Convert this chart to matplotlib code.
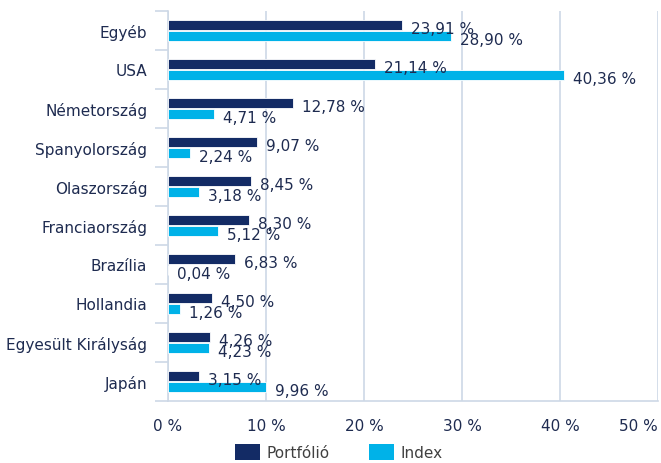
import matplotlib
matplotlib.use("Agg")
import matplotlib.pyplot as plt
import numpy as np
from matplotlib.patches import Patch

categories = ["Egyéb", "USA", "Németország", "Spanyolország", "Olaszország",
              "Franciaország", "Brazília", "Hollandia", "Egyesült Királyság", "Japán"]
portfolio = [23.91, 21.14, 12.78, 9.07, 8.45, 8.30, 6.83, 4.50, 4.26, 3.15]
index_vals = [28.90, 40.36, 4.71, 2.24, 3.18, 5.12, 0.04, 1.26, 4.23, 9.96]
xticks = [0, 10, 20, 30, 40, 50]

navy = "#132B65"
cyan = "#00B2E8"
text_c = "#1E2B50"
grid_c = "#CDD8E6"

plt.rcParams["font.family"] = ["DejaVu Sans"]

W, H = 661, 464
fig = plt.figure(figsize=(W / 100, H / 100), dpi=100)
ax = fig.add_axes([168 / W, (H - 402) / H, (658 - 168) / W, (402 - 12) / H])

y = np.arange(len(categories))
h = 0.25
off = 0.14
ax.barh(y - off, portfolio, height=h, color=navy, edgecolor="white", linewidth=0.6, zorder=3)
ax.barh(y + off, index_vals, height=h, color=cyan, edgecolor="white", linewidth=0.6, zorder=3)

def fmt(v):
    return f"{v:.2f}".replace(".", ",") + " %"

for yi, v in zip(y, portfolio):
    ax.annotate(fmt(v), (v, yi - off), xytext=(6.5, -2.2), textcoords="offset points",
                va="center", ha="left", fontsize=11, color=text_c, zorder=4)
for yi, v in zip(y, index_vals):
    ax.annotate(fmt(v), (v, yi + off), xytext=(6.5, -2.2), textcoords="offset points",
                va="center", ha="left", fontsize=11, color=text_c, zorder=4)

ax.set_xlim(0, 50)
ax.set_ylim(len(categories) - 0.5, -0.5)
ax.set_xticks(xticks)
ax.set_xticklabels([f"{t} %" for t in xticks], fontsize=11, color=text_c)
ax.tick_params(axis="x", length=0, pad=12)
xl = ax.get_xticklabels()
xl[-1].set_horizontalalignment("right")
ax.set_yticks(y)
ax.set_yticklabels(categories, fontsize=11, color=text_c)
ax.tick_params(axis="y", which="major", length=0, pad=15)
ax.set_yticks(np.arange(-0.5, len(categories), 1), minor=True)
ax.tick_params(axis="y", which="minor", length=9.5, color=grid_c, width=1.2)

ax.grid(axis="x", color=grid_c, linewidth=1.2, zorder=0)
for s in ["top", "right"]:
    ax.spines[s].set_visible(False)
for s in ["left", "bottom"]:
    ax.spines[s].set_color(grid_c)
    ax.spines[s].set_linewidth(1.2)
ax.spines["bottom"].set_zorder(5)

handles = [Patch(facecolor=navy, label="Portfólió"), Patch(facecolor=cyan, label="Index")]
leg = fig.legend(handles=handles, loc="lower center", bbox_to_anchor=(0.513, -0.024), ncol=2,
                 frameon=False, fontsize=11, handlelength=1.6, handleheight=1.2,
                 columnspacing=2.6, handletextpad=0.45)
for t in leg.get_texts():
    t.set_color("#404040")

fig.savefig("out.png", dpi=100)
